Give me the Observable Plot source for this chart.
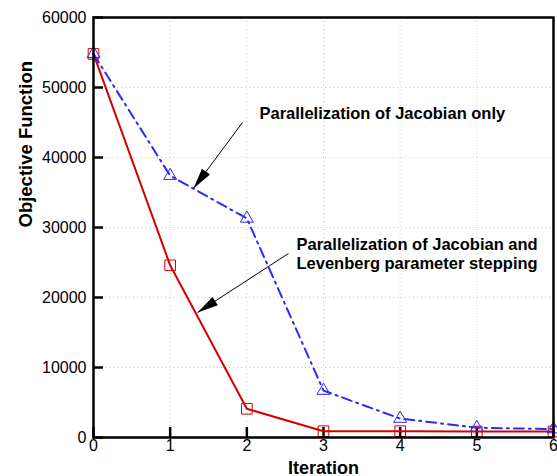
<!DOCTYPE html>
<html>
<head>
<meta charset="utf-8">
<script src="https://cdn.jsdelivr.net/npm/d3@7"></script>
<script src="https://cdn.jsdelivr.net/npm/@observablehq/plot@0.6"></script>
<style>
  html, body { margin: 0; padding: 0; background: #fff; }
  #chart { width: 557px; height: 476px; }
</style>
</head>
<body>
<div id="chart"></div>
<script>
// ---- data ----
const iterations = [0, 1, 2, 3, 4, 5, 6];
const jacobianAndLevenberg = [54800, 24600, 4100, 900, 900, 850, 850];
const jacobianOnly = [54800, 37400, 31300, 6700, 2700, 1400, 1200];
const xTicks = [0, 1, 2, 3, 4, 5, 6];
const yTicks = [0, 10000, 20000, 30000, 40000, 50000, 60000];
const xLabel = "Iteration";
const yLabel = "Objective Function";
const labelLines = ["Parallelization of Jacobian only", "Parallelization of Jacobian and", "Levenberg parameter stepping"];
const labelX = [2.165, 2.648, 2.648];
const labelY = [46300, 27600, 24850];
const arrowFromX = [1.943, 2.543];
const arrowFromY = [45000, 26286];
const arrowToX = [1.304, 1.357];
const arrowToY = [35571, 17857];

// ---- tables ----
const red = iterations.map((x, i) => ({x, y: jacobianAndLevenberg[i]}));
const blue = iterations.map((x, i) => ({x, y: jacobianOnly[i]}));
const labels = labelLines.map((t, i) => ({t, x: labelX[i], y: labelY[i]}));
const arrows = arrowFromX.map((x1, i) => ({x1, y1: arrowFromY[i], x2: arrowToX[i], y2: arrowToY[i]}));

function filledHead(color, context) {
  const doc = (context && context.document) || document;
  const m = d3.select(doc.createElementNS("http://www.w3.org/2000/svg", "marker"))
    .attr("markerUnits", "userSpaceOnUse")
    .attr("orient", "auto")
    .attr("overflow", "visible")
    .attr("markerWidth", 22)
    .attr("markerHeight", 12)
    .attr("refX", 0)
    .attr("refY", 0);
  m.append("path").attr("d", "M-21,-5L0,0L-21,5Z").attr("fill", "black").attr("stroke", "none");
  return m.node();
}

const RED = "#d40000";
const BLUE = "#2a2aff";

const chart = Plot.plot({
  width: 557,
  height: 476,
  marginLeft: 93,
  marginRight: 4,
  marginTop: 17,
  marginBottom: 39,
  style: {fontFamily: "'Liberation Sans', Arial, sans-serif", fontSize: "16px", color: "#000", background: "#fff"},
  x: {domain: [0, 6]},
  y: {domain: [0, 60000]},
  marks: [
    Plot.gridX(xTicks, {stroke: "#c8c8c8", strokeOpacity: 1, strokeDasharray: "1,3"}),
    Plot.gridY(yTicks, {stroke: "#c8c8c8", strokeOpacity: 1, strokeDasharray: "1,3"}),
    // tick labels
    Plot.axisX(xTicks, {tickSize: 0, tickPadding: 2, fontSize: 16, label: null, tickFormat: d => String(d)}),
    Plot.axisY(yTicks, {tickSize: 0, tickPadding: 7, fontSize: 16, label: null, tickFormat: d => String(d)}),
    // inward ticks
    Plot.axisX(xTicks, {tickSize: 10, dy: -10, strokeWidth: 2.5, tickFormat: () => "", label: null}),
    Plot.axisY(yTicks, {tickSize: 10, dx: 10, strokeWidth: 2.5, tickFormat: () => "", label: null}),
    // series
    Plot.line(red, {x: "x", y: "y", stroke: RED, strokeWidth: 2}),
    Plot.dot(red, {x: "x", y: "y", symbol: "square", r: 6, stroke: RED, strokeWidth: 1, fill: "none"}),
    Plot.line(blue, {x: "x", y: "y", stroke: BLUE, strokeWidth: 2, strokeDasharray: "10,5,2,5"}),
    Plot.dot(blue, {x: "x", y: "y", symbol: "triangle", r: 4.8, stroke: BLUE, strokeWidth: 1, fill: "none"}),
    // annotations
    Plot.link(arrows, {x1: "x1", y1: "y1", x2: "x2", y2: "y2", stroke: "black", strokeWidth: 1, markerEnd: filledHead}),
    Plot.text(labels, {x: "x", y: "y", text: "t", textAnchor: "start", fontWeight: "bold", fontSize: 16.5, fill: "black"}),
    // axis titles
    Plot.text([yLabel], {frameAnchor: "left", rotate: -90, dx: -67, fontWeight: "bold", fontSize: 18.5, fill: "black"}),
    Plot.text([xLabel], {frameAnchor: "bottom", lineAnchor: "bottom", dy: 36, fontWeight: "bold", fontSize: 18, fill: "black"}),
    Plot.frame({stroke: "black", strokeWidth: 2.5})
  ]
});
document.getElementById("chart").appendChild(chart);
</script>
</body>
</html>
